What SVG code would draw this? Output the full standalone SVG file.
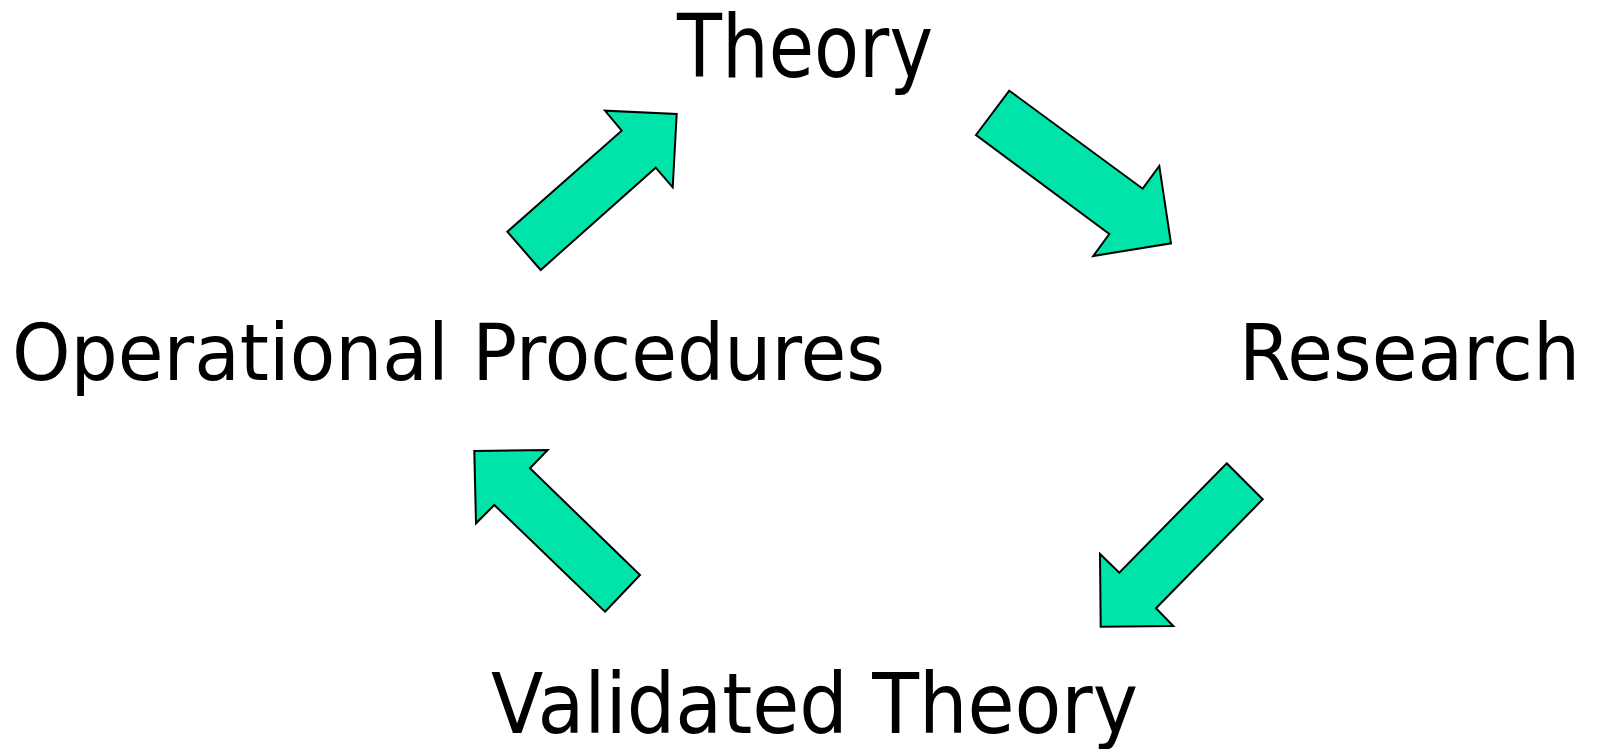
<svg xmlns="http://www.w3.org/2000/svg" width="1597" height="749" viewBox="0 0 1597 749">
<style>
.lbl{font-family:"DejaVu Sans","Liberation Sans",sans-serif;fill:#000}
.arr{fill:#00E4AA;stroke:#000;stroke-width:2;stroke-linejoin:miter}
</style>
<rect width="1597" height="749" fill="#fff"/>
<g id="node-theory"><text class="lbl" x="677" y="77" font-size="88" textLength="256" lengthAdjust="spacingAndGlyphs">Theory</text></g>
<g id="node-operational"><text class="lbl" x="12" y="380" font-size="78" textLength="873" lengthAdjust="spacingAndGlyphs">Operational Procedures</text></g>
<g id="node-research"><text class="lbl" x="1239" y="380" font-size="79" textLength="341" lengthAdjust="spacingAndGlyphs">Research</text></g>
<g id="node-validated"><text class="lbl" x="491" y="733" font-size="84" textLength="647" lengthAdjust="spacingAndGlyphs">Validated Theory</text></g>
<g id="connectors">
<polygon class="arr" points="507.3,231.7 621.7,130.7 605,110.7 676.7,114 672.7,187.3 655.7,167.7 540.7,270"/>
<polygon class="arr" points="1009.3,90.7 1142.7,188.7 1159.3,166 1171,243.3 1093.3,256 1109.3,234 976,135"/>
<polygon class="arr" points="1226.7,463.3 1262.7,499.3 1156,608.3 1173.3,626 1100.7,626.7 1100,554 1119.3,572.7"/>
<polygon class="arr" points="605,611.7 640,575 530,468.3 547.7,450 474.3,451 476,523.3 494.3,505"/>
</g>
</svg>
